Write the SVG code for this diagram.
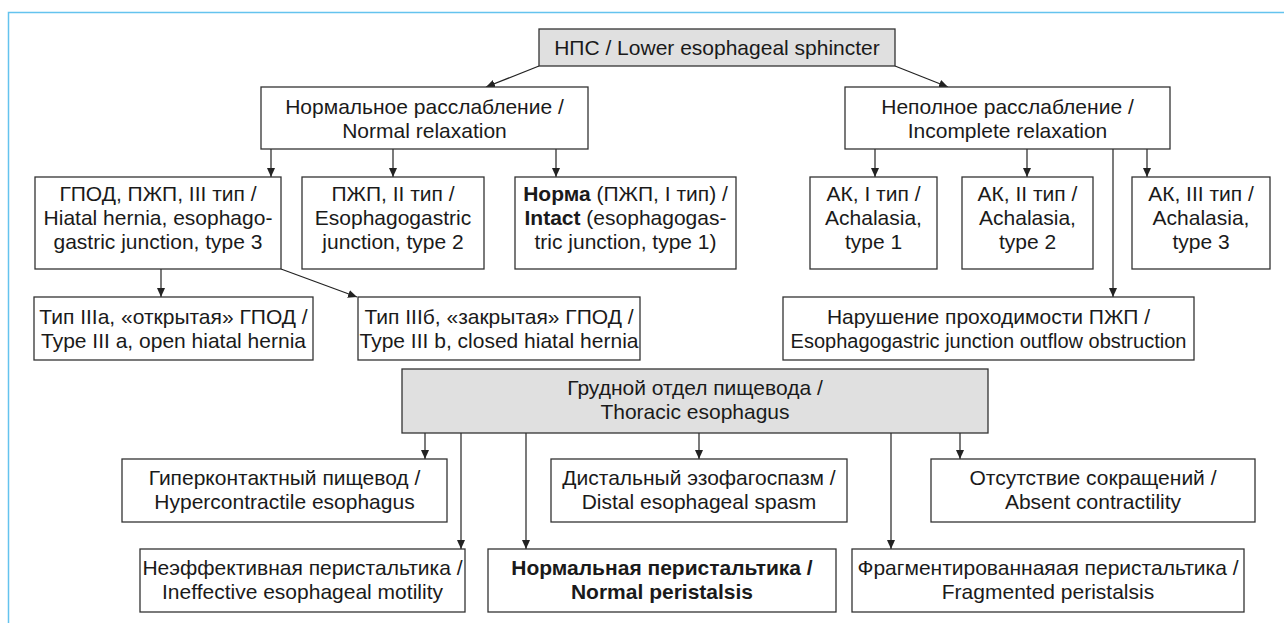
<svg xmlns="http://www.w3.org/2000/svg" width="1284" height="623" viewBox="0 0 1284 623">
<defs>
<style>
.box{fill:#fff;stroke:#333;stroke-width:1.3}
.gray{fill:#e0e0e0}
text{font-family:"Liberation Sans",Arial,sans-serif;font-size:21px;fill:#1a1a1a;text-anchor:middle}
.b{font-weight:bold}
.s{font-size:20px}
.c{stroke:#222;stroke-width:1.2;fill:none;marker-end:url(#ah)}
</style>
<marker id="ah" markerWidth="9" markerHeight="8" refX="9" refY="4" orient="auto" markerUnits="userSpaceOnUse">
<path d="M0,0 L9,4 L0,8 z" fill="#222"/>
</marker>
</defs>
<rect width="1284" height="623" fill="#fff"/>
<path d="M8.5 623 V12.5 H1284" fill="none" stroke="#64c3ee" stroke-width="1.5"/>

<g id="connectors">
<line class="c" x1="539" y1="66" x2="486" y2="87"/>
<line class="c" x1="895" y1="66" x2="948" y2="87"/>
<line class="c" x1="271" y1="149" x2="271" y2="177"/>
<line class="c" x1="393" y1="149" x2="393" y2="177"/>
<line class="c" x1="556" y1="149" x2="556" y2="177"/>
<line class="c" x1="875" y1="149" x2="875" y2="177"/>
<line class="c" x1="1027" y1="149" x2="1027" y2="177"/>
<line class="c" x1="1147" y1="149" x2="1147" y2="177"/>
<line class="c" x1="1113" y1="149" x2="1113" y2="297"/>
<line class="c" x1="161" y1="269" x2="161" y2="297"/>
<line class="c" x1="281" y1="269" x2="357" y2="297"/>
<line class="c" x1="425" y1="433" x2="425" y2="459"/>
<line class="c" x1="461" y1="433" x2="461" y2="549"/>
<line class="c" x1="526" y1="433" x2="526" y2="549"/>
<line class="c" x1="699" y1="433" x2="699" y2="459"/>
<line class="c" x1="891" y1="433" x2="891" y2="549"/>
<line class="c" x1="960" y1="433" x2="960" y2="459"/>
</g>

<g id="n-les">
<rect class="box gray" x="539" y="29" width="356" height="37"/>
<text x="717" y="55">НПС / Lower esophageal sphincter</text>
</g>
<g id="n-normal-relax">
<rect class="box" x="261" y="87" width="327" height="62"/>
<text x="424.5" y="114">Нормальное расслабление /</text>
<text x="424.5" y="138">Normal relaxation</text>
</g>
<g id="n-incomplete-relax">
<rect class="box" x="845" y="87" width="325" height="62"/>
<text x="1007.5" y="114">Неполное расслабление /</text>
<text x="1007.5" y="138">Incomplete relaxation</text>
</g>
<g id="n-egj3">
<rect class="box" x="35" y="177" width="246" height="92"/>
<text x="158" y="201">ГПОД, ПЖП, III тип /</text>
<text x="158" y="225">Hiatal hernia, esophago-</text>
<text x="158" y="249">gastric junction, type 3</text>
</g>
<g id="n-egj2">
<rect class="box" x="302" y="177" width="182" height="92"/>
<text x="393" y="201">ПЖП, II тип /</text>
<text x="393" y="225">Esophagogastric</text>
<text x="393" y="249">junction, type 2</text>
</g>
<g id="n-egj1">
<rect class="box" x="515" y="177" width="221" height="92"/>
<text x="625.5" y="201"><tspan class="b">Норма</tspan> (ПЖП, I тип) /</text>
<text x="625.5" y="225"><tspan class="b">Intact</tspan> (esophagogas-</text>
<text x="625.5" y="249">tric junction, type 1)</text>
</g>
<g id="n-ach1">
<rect class="box" x="810" y="177" width="127" height="92"/>
<text x="873.5" y="201">АК, I тип /</text>
<text x="873.5" y="225">Achalasia,</text>
<text x="873.5" y="249">type 1</text>
</g>
<g id="n-ach2">
<rect class="box" x="962" y="177" width="131" height="92"/>
<text x="1027.5" y="201">АК, II тип /</text>
<text x="1027.5" y="225">Achalasia,</text>
<text x="1027.5" y="249">type 2</text>
</g>
<g id="n-ach3">
<rect class="box" x="1132" y="177" width="138" height="92"/>
<text x="1201" y="201">АК, III тип /</text>
<text x="1201" y="225">Achalasia,</text>
<text x="1201" y="249">type 3</text>
</g>
<g id="n-3a">
<rect class="box" x="34" y="297" width="279" height="63"/>
<text x="173.5" y="324">Тип IIIa, «открытая» ГПОД /</text>
<text x="173.5" y="348">Type III a, open hiatal hernia</text>
</g>
<g id="n-3b">
<rect class="box" x="358" y="297" width="282" height="63"/>
<text x="499" y="324">Тип IIIб, «закрытая» ГПОД /</text>
<text x="499" y="348">Type III b, closed hiatal hernia</text>
</g>
<g id="n-egjoo">
<rect class="box" x="783" y="297" width="411" height="63"/>
<text x="988.5" y="324">Нарушение проходимости ПЖП /</text>
<text class="s" x="988.5" y="348">Esophagogastric junction outflow obstruction</text>
</g>
<g id="n-thoracic">
<rect class="box gray" x="402" y="369" width="586" height="64"/>
<text x="695" y="395">Грудной отдел пищевода /</text>
<text x="695" y="419">Thoracic esophagus</text>
</g>
<g id="n-hyper">
<rect class="box" x="122" y="459" width="325" height="63"/>
<text x="284.5" y="485">Гиперконтактный пищевод /</text>
<text x="284.5" y="509">Hypercontractile esophagus</text>
</g>
<g id="n-des">
<rect class="box" x="551" y="459" width="296" height="63"/>
<text x="699" y="485">Дистальный эзофагоспазм /</text>
<text x="699" y="509">Distal esophageal spasm</text>
</g>
<g id="n-absent">
<rect class="box" x="931" y="459" width="324" height="63"/>
<text x="1093" y="485">Отсутствие сокращений /</text>
<text x="1093" y="509">Absent contractility</text>
</g>
<g id="n-iem">
<rect class="box" x="140" y="549" width="325" height="63"/>
<text x="302.5" y="575">Неэффективная перистальтика /</text>
<text x="302.5" y="599">Ineffective esophageal motility</text>
</g>
<g id="n-normal-peri">
<rect class="box" x="488" y="549" width="348" height="63"/>
<text class="b" x="662" y="575">Нормальная перистальтика /</text>
<text class="b" x="662" y="599">Normal peristalsis</text>
</g>
<g id="n-frag">
<rect class="box" x="852" y="549" width="392" height="63"/>
<text x="1048" y="575">Фрагментированнаяая перистальтика /</text>
<text x="1048" y="599">Fragmented peristalsis</text>
</g>
</svg>
